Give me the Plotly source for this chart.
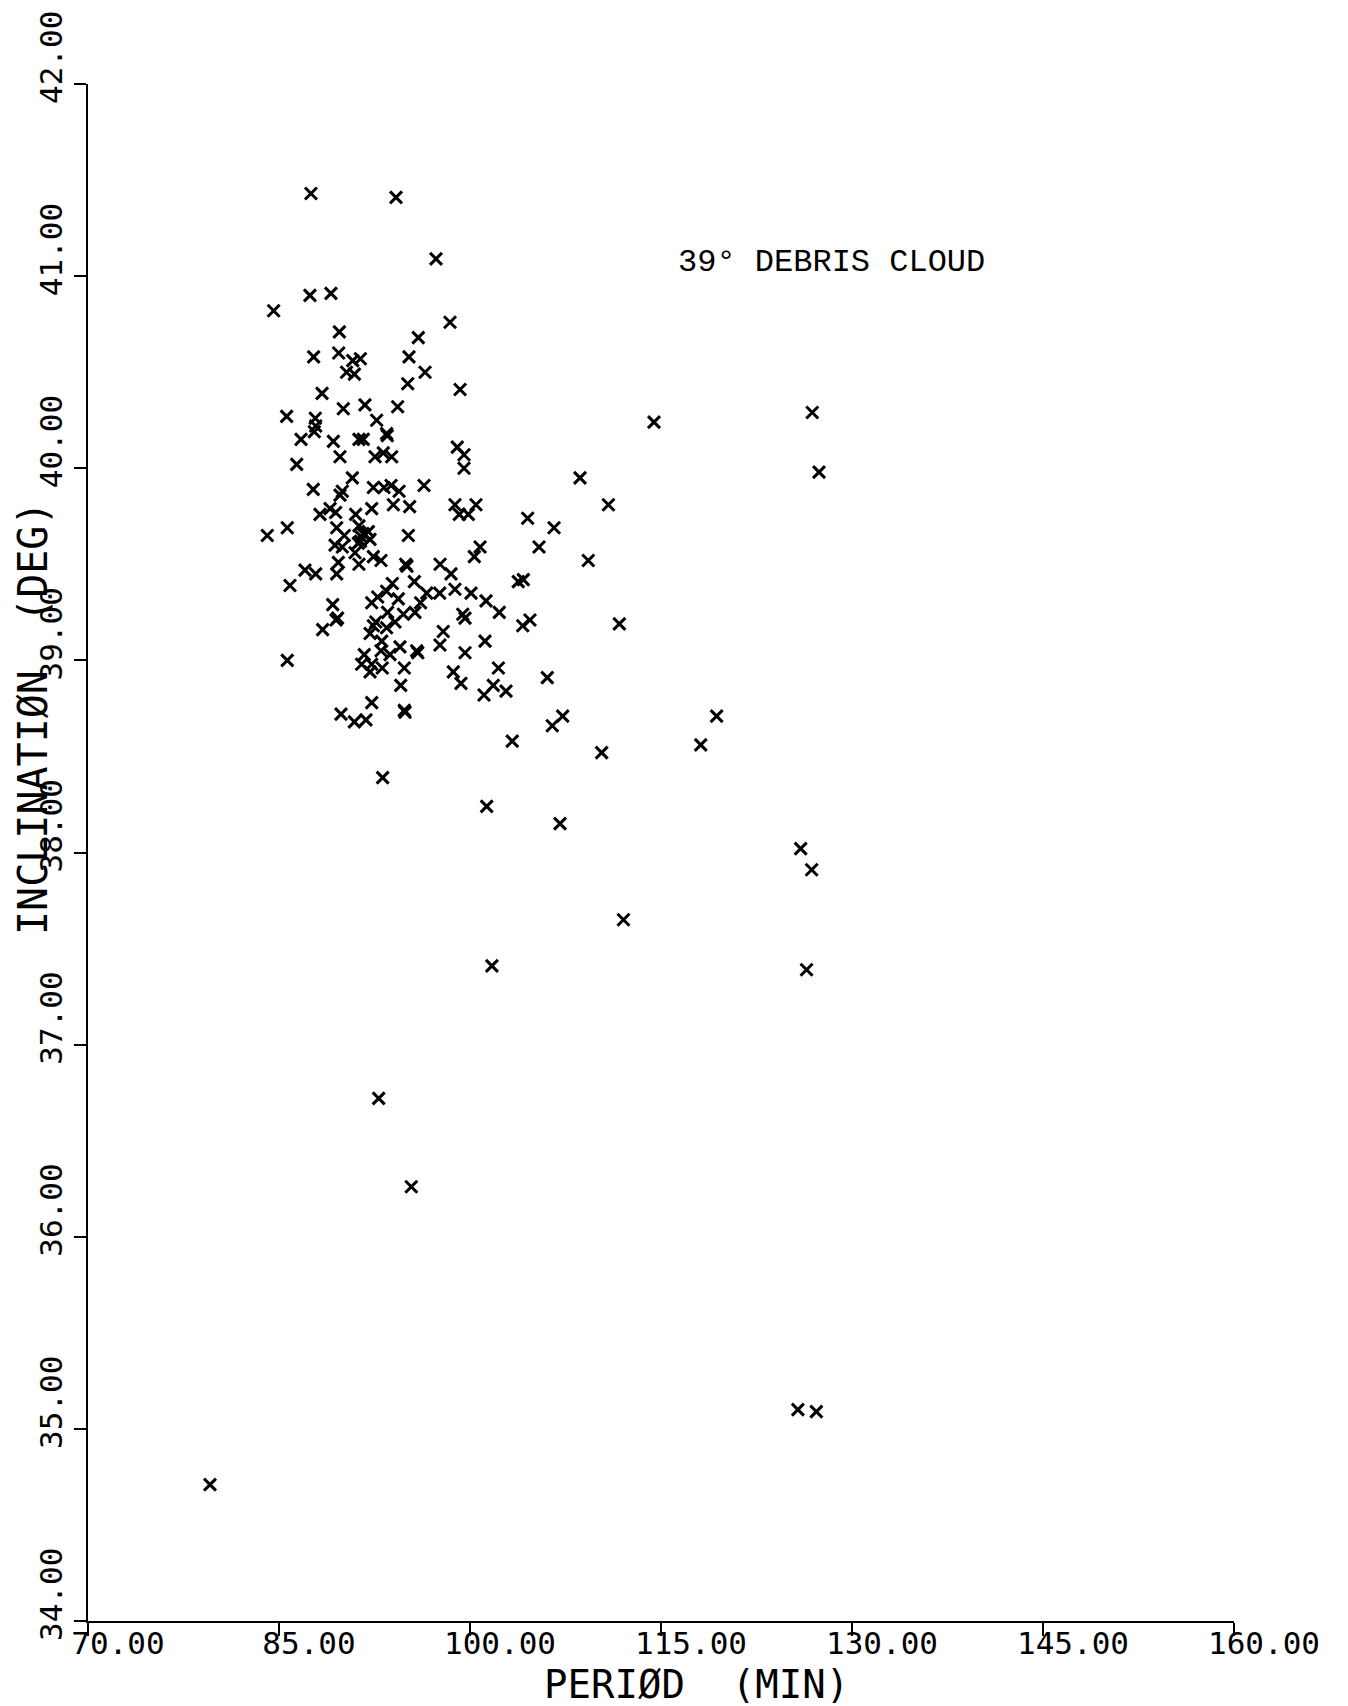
"""Scatter plot of the 39 degree debris cloud: inclination vs period."""

import plotly.graph_objects as go

# Orbital period (min) of each fragment
period = [
    87.51, 94.19, 97.33, 87.43, 89.08, 84.58, 98.43, 89.74, 95.94, 87.72,
    89.69, 90.79, 91.39, 90.31, 90.92, 95.21, 96.47, 95.11, 88.38, 91.75,
    94.32, 90.05, 85.60, 87.85, 87.88, 87.77, 92.67, 86.73, 89.27, 91.28,
    91.62, 93.45, 93.50, 89.79, 92.54, 93.19, 93.85, 86.39, 90.76, 87.69,
    89.97, 89.79, 92.41, 93.25, 93.80, 94.43, 96.39, 89.01, 88.22, 89.45,
    91.02, 92.28, 93.98, 95.26, 84.08, 85.65, 89.53, 90.13, 89.40, 91.28,
    91.49, 91.23, 92.02, 92.15, 91.60, 91.40, 95.16, 89.97, 90.97, 91.28,
    92.41, 93.01, 89.66, 94.95, 95.05, 97.65, 87.04, 87.88, 89.53, 85.86,
    93.90, 95.63, 97.62, 93.45, 92.75, 96.60, 94.37, 89.22, 92.28, 96.12,
    93.53, 94.77, 95.68, 89.48, 89.60, 88.43, 92.41, 92.15, 92.60, 93.45,
    94.11, 97.90, 97.64, 93.07, 93.01, 94.50, 95.81, 95.90, 93.72, 85.65,
    91.70, 91.49, 92.28, 92.15, 93.11, 94.84, 94.56, 92.28, 94.84, 94.90,
    89.87, 90.92, 91.83, 93.14, 99.00, 99.53, 99.53, 108.64, 110.87, 98.82,
    100.47, 99.16, 99.87, 104.53, 106.60, 100.79, 100.34, 105.42, 109.29, 98.51,
    103.79, 104.19, 98.82, 100.08, 101.26, 102.30, 99.43, 99.61, 104.14, 104.71,
    111.73, 101.18, 99.61, 98.69, 99.29, 102.23, 101.10, 101.83, 102.83, 106.07,
    107.28, 106.46, 103.32, 110.34, 99.22, 114.45, 126.88, 127.41, 119.37, 118.12,
    101.31, 107.07, 125.97, 126.83, 112.05, 101.72, 126.43, 92.83, 95.39, 125.75,
    127.20, 79.58,
]

# Inclination (deg) of each fragment
inclination = [
    41.43, 41.41, 41.09, 40.90, 40.91, 40.82, 40.76, 40.71, 40.68, 40.58,
    40.60, 40.56, 40.57, 40.50, 40.49, 40.58, 40.50, 40.44, 40.39, 40.33,
    40.32, 40.31, 40.27, 40.26, 40.22, 40.19, 40.25, 40.15, 40.14, 40.15,
    40.15, 40.18, 40.17, 40.06, 40.06, 40.08, 40.06, 40.02, 39.95, 39.89,
    39.88, 39.86, 39.90, 39.90, 39.91, 39.88, 39.91, 39.79, 39.76, 39.77,
    39.76, 39.79, 39.81, 39.80, 39.65, 39.69, 39.69, 39.65, 39.60, 39.70,
    39.64, 39.61, 39.67, 39.63, 39.66, 39.62, 39.65, 39.59, 39.56, 39.50,
    39.54, 39.52, 39.51, 39.50, 39.49, 39.50, 39.47, 39.45, 39.45, 39.39,
    39.40, 39.41, 39.35, 39.36, 39.33, 39.35, 39.32, 39.29, 39.30, 39.30,
    39.25, 39.24, 39.25, 39.21, 39.22, 39.16, 39.18, 39.14, 39.20, 39.17,
    39.20, 39.15, 39.08, 39.10, 39.05, 39.07, 39.05, 39.04, 39.03, 39.00,
    39.03, 38.98, 38.98, 38.94, 38.96, 38.96, 38.87, 38.78, 38.74, 38.73,
    38.72, 38.68, 38.69, 38.39, 40.11, 40.07, 40.00, 39.95, 39.81, 39.81,
    39.81, 39.76, 39.76, 39.74, 39.69, 39.59, 39.54, 39.59, 39.52, 39.45,
    39.41, 39.42, 39.37, 39.35, 39.31, 39.25, 39.24, 39.22, 39.18, 39.21,
    39.19, 39.10, 39.04, 38.94, 38.88, 38.96, 38.82, 38.87, 38.84, 38.91,
    38.71, 38.66, 38.58, 38.52, 40.41, 40.24, 40.29, 39.98, 38.71, 38.56,
    38.24, 38.15, 38.02, 37.91, 37.65, 37.41, 37.39, 36.72, 36.26, 35.10,
    35.09, 34.71,
]

x_ticks = [70, 85, 100, 115, 130, 145, 160]
y_ticks = [34, 35, 36, 37, 38, 39, 40, 41, 42]

plot_font = "DejaVu Sans Mono"

fig = go.Figure()

# Fragments as plotter crosses
fig.add_trace(go.Scatter(
    x=period,
    y=inclination,
    mode='markers',
    marker=dict(
        symbol='x-thin',
        size=12,
        color='black',
        line=dict(color='black', width=3),
    ),
    hovertemplate='P: %{x:.2f} min<br>i: %{y:.2f} deg<extra></extra>',
    showlegend=False,
))

fig.add_annotation(
    x=128.4, y=41.07, xref='x', yref='y',
    text='39° DEBRIS CLOUD',
    showarrow=False,
    font=dict(family='Liberation Mono', size=32, color='black'),
)

# Axis titles placed by hand, as on the original plotter output
fig.add_annotation(
    x=0.531, y=-0.0415, xref='paper', yref='paper',
    xanchor='center', yanchor='middle',
    text='PERIØD \u00a0(MIN)',
    showarrow=False,
    font=dict(family=plot_font, size=39, color='black'),
)
fig.add_annotation(
    x=-0.048, y=0.5875, xref='paper', yref='paper',
    xanchor='center', yanchor='middle',
    text='INCLINATIØN \u00a0(DEG)',
    textangle=-90,
    showarrow=False,
    font=dict(family=plot_font, size=40, color='black'),
)

fig.update_xaxes(
    range=[70, 160],
    tickvals=x_ticks,
    ticktext=[f'{v:.2f}' for v in x_ticks],
    ticks='outside', ticklen=13, tickwidth=2, tickcolor='black',
    ticklabelshift=30,
    ticklabelstandoff=-19,
    ticklabeloverflow='allow',
    automargin=False,
    showline=True, linewidth=2, linecolor='black',
    showgrid=False, zeroline=False,
    tickfont=dict(family=plot_font, size=31, color='black'),
)
fig.update_yaxes(
    range=[34, 42],
    tickvals=y_ticks,
    ticktext=[f'{v:.2f}' for v in y_ticks],
    tickangle=-90,
    ticks='outside', ticklen=12, tickwidth=2, tickcolor='black',
    ticklabelshift=-22,
    ticklabeloverflow='allow',
    automargin=False,
    showline=True, linewidth=2, linecolor='black',
    showgrid=False, zeroline=False,
    tickfont=dict(family=plot_font, size=31, color='black'),
)

# The page body adds an 8 px offset, so margins are trimmed to keep the
# plot area where the original has it.
fig.update_layout(
    width=1348,
    height=1706,
    margin=dict(l=80, r=122, t=76, b=93),
    plot_bgcolor='white',
    paper_bgcolor='white',
    showlegend=False,
)

fig.write_html("out.html")
